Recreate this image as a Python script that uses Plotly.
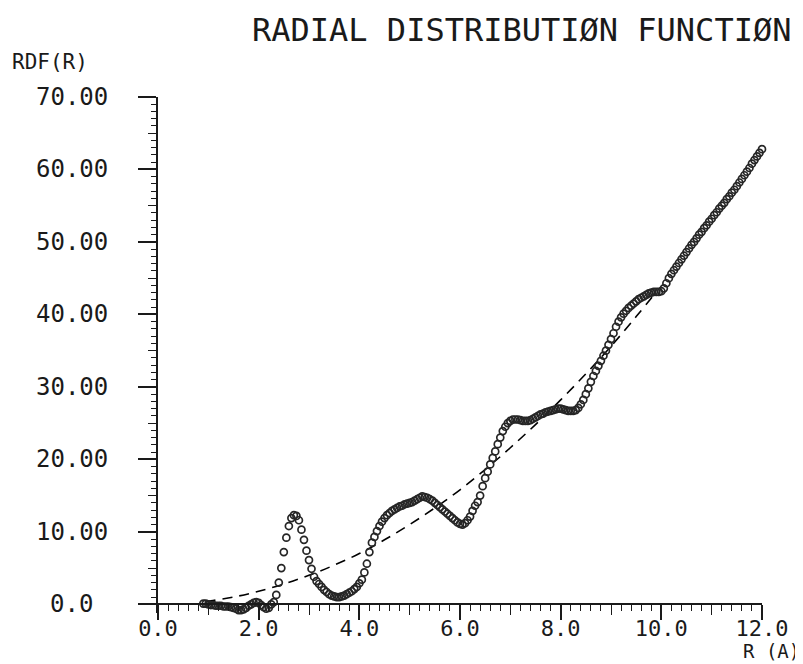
import plotly.graph_objects as go
import numpy as np

# ---------------- data ----------------
r_start, r_step = 0.90, 0.05
rdf_values = [
    0.1, 0.1, 0.0, -0.1, -0.1, -0.2, -0.2, -0.2, -0.3, -0.3,      # 0.90-1.35
    -0.3, -0.4, -0.5, -0.6, -0.8, -0.8, -0.7, -0.5, -0.2, 0.0,    # 1.40-1.85
    0.2, 0.3, 0.2, -0.1, -0.4, -0.6, -0.5, 0.0, 0.3, 1.3,         # 1.90-2.35
    3.0, 5.0, 7.2, 9.2, 10.8, 11.9, 12.3, 12.2, 11.6, 10.3,       # 2.40-2.85
    8.9, 7.4, 6.1, 4.9, 3.8, 3.2, 2.8, 2.4, 2.0, 1.7,             # 2.90-3.35
    1.4, 1.2, 1.1, 1.0, 1.0, 1.1, 1.2, 1.4, 1.6, 1.8,             # 3.40-3.85
    2.1, 2.4, 2.9, 3.4, 4.4, 5.6, 7.2, 8.5, 9.3, 10.1,            # 3.90-4.35
    10.8, 11.4, 11.9, 12.3, 12.6, 12.9, 13.1, 13.3, 13.5, 13.6,   # 4.40-4.85
    13.8, 13.9, 14.0, 14.1, 14.3, 14.5, 14.7, 14.9, 14.8, 14.7,   # 4.90-5.35
    14.5, 14.3, 14.0, 13.7, 13.4, 13.1, 12.8, 12.5, 12.2, 11.9,   # 5.40-5.85
    11.6, 11.3, 11.1, 11.0, 11.2, 11.6, 12.1, 12.9, 13.6, 14.1,   # 5.90-6.35
    15.0, 16.3, 17.4, 18.3, 19.3, 20.2, 21.1, 22.1, 23.0, 23.9,   # 6.40-6.85
    24.5, 25.0, 25.3, 25.5, 25.5, 25.5, 25.4, 25.3, 25.3, 25.3,   # 6.90-7.35
    25.4, 25.6, 25.8, 26.0, 26.2, 26.3, 26.5, 26.6, 26.7, 26.8,   # 7.40-7.85
    26.9, 27.0, 27.0, 26.9, 26.8, 26.7, 26.7, 26.7, 26.8, 27.1,   # 7.90-8.35
    27.6, 28.2, 29.0, 29.8, 30.7, 31.5, 32.2, 32.9, 33.6, 34.3,   # 8.40-8.85
    35.0, 35.8, 36.6, 37.4, 38.3, 39.0, 39.6, 40.1, 40.5, 40.9,   # 8.90-9.35
    41.2, 41.5, 41.8, 42.1, 42.3, 42.5, 42.7, 42.9, 43.0, 43.1,   # 9.40-9.85
    43.1, 43.1, 43.2, 43.6, 44.3, 45.0, 45.6, 46.1, 46.6, 47.1,   # 9.90-10.35
    47.6, 48.1, 48.6, 49.1, 49.6, 50.0, 50.5, 51.0, 51.4, 51.9,   # 10.40-10.85
    52.3, 52.8, 53.2, 53.7, 54.1, 54.6, 55.0, 55.4, 55.9, 56.3,   # 10.90-11.35
    56.8, 57.2, 57.7, 58.2, 58.7, 59.2, 59.7, 60.2, 60.8, 61.3,   # 11.40-11.85
    61.8, 62.3, 62.8,                                             # 11.90-12.00
]
r_values = np.round(r_start + r_step * np.arange(len(rdf_values)), 2)

dash_r = [0.95, 1.0, 1.5, 2.0, 2.5, 3.0, 3.5, 4.0, 4.5, 5.0, 5.5, 6.0,
          6.5, 7.0, 7.5, 8.0, 8.5, 9.0, 9.5, 9.9]
dash_values = [0.3, 0.4, 1.0, 1.8, 2.8, 4.0, 5.4, 7.0, 8.9, 11.0, 13.3, 15.8,
               18.6, 21.6, 24.8, 28.2, 31.8, 35.6, 39.7, 43.1]

x_tick_vals = [0, 2, 4, 6, 8, 10, 12]
x_tick_text = ["0.0", "2.0", "4.0", "6.0", "8.0", "10.0", "12.0"]
x_mid_ticks = [1, 3, 5, 7, 9, 11]
y_tick_vals = [0, 10, 20, 30, 40, 50, 60, 70]
y_tick_text = ["0.0", "10.00", "20.00", "30.00", "40.00", "50.00", "60.00", "70.00"]
y_mid_ticks = [5, 15, 25, 35, 45, 55, 65]
y_minor_ticks = [v for v in range(1, 70) if v % 5 != 0]

title_text = "RADIAL DISTRIBUTIØN FUNCTIØN"
y_label = "RDF(R)"
x_label = "R (A)"

# ---------------- figure ----------------
FONT = "DejaVu Sans Mono"
INK = "#1a1a1a"
Y_LOW, Y_HIGH = -1.2, 70
X_AXIS_POS = (0 - Y_LOW) / (Y_HIGH - Y_LOW)   # where y = 0 sits in the plot area

fig = go.Figure()
fig.add_trace(go.Scatter(
    x=dash_r, y=dash_values, mode="lines",
    line=dict(color="black", width=1.6, dash="10px,7px", shape="spline"),
    showlegend=False, cliponaxis=False, hoverinfo="skip"))
fig.add_trace(go.Scatter(
    x=r_values, y=rdf_values, mode="markers",
    marker=dict(symbol="circle-open", size=7, color="#262626",
                line=dict(width=1.7, color="#262626")),
    showlegend=False, cliponaxis=False))
# helper trace so that the tick-only overlay axes are drawn
fig.add_trace(go.Scatter(x=[None], y=[None], xaxis="x2", yaxis="y2",
                         showlegend=False, hoverinfo="skip"))

axis_common = dict(showgrid=False, zeroline=False, color=INK)
fig.update_layout(
    width=795, height=656,
    margin=dict(l=150, r=41, t=89, b=51),
    paper_bgcolor="white", plot_bgcolor="white",
    font=dict(family=FONT, color=INK),
    xaxis=dict(
        **axis_common, range=[0, 12], anchor="free", position=X_AXIS_POS,
        showline=True, linecolor=INK, linewidth=1.5,
        ticks="outside", tickvals=x_tick_vals, ticktext=x_tick_text,
        ticklen=15, tickwidth=1.5, tickcolor=INK, ticklabelstandoff=-10,
        tickfont=dict(family=FONT, size=22, color=INK),
        minor=dict(ticks="outside", dtick=0.2, tick0=0, ticklen=6,
                   tickwidth=1.2, tickcolor=INK, showgrid=False),
    ),
    xaxis2=dict(
        **axis_common, range=[0, 12], overlaying="x", anchor="free",
        position=X_AXIS_POS, side="bottom",
        showline=False, ticks="outside", tickvals=x_mid_ticks, ticklen=10,
        tickwidth=1.3, tickcolor=INK, showticklabels=False,
    ),
    yaxis=dict(
        **axis_common, range=[Y_LOW, Y_HIGH], showline=True, linecolor=INK,
        linewidth=1.5, ticks="outside", tickvals=y_tick_vals, ticklen=18,
        tickwidth=1.5, tickcolor=INK, showticklabels=False,
        minor=dict(ticks="outside", tickvals=y_minor_ticks, ticklen=5,
                   tickwidth=1.2, tickcolor=INK, showgrid=False),
    ),
    yaxis2=dict(
        **axis_common, range=[Y_LOW, Y_HIGH], overlaying="y", anchor="x",
        side="left", showline=False, ticks="outside", tickvals=y_mid_ticks,
        ticklen=9, tickwidth=1.3, tickcolor=INK, showticklabels=False,
    ),
)

# y tick labels (centred in a column, as on the plotter output)
for v, t in zip(y_tick_vals, y_tick_text):
    fig.add_annotation(x=-0.1424, xref="paper", y=v, yref="y", text=t,
                       showarrow=False, xanchor="center", yanchor="middle",
                       font=dict(family=FONT, size=24, color=INK))

fig.add_annotation(x=0.6026, xref="paper", y=1.13, yref="paper", text=title_text,
                   showarrow=False, xanchor="center", yanchor="middle",
                   font=dict(family=FONT, size=32, color=INK))
fig.add_annotation(x=-0.245, xref="paper", y=1.068, yref="paper", text=y_label,
                   showarrow=False, xanchor="left", yanchor="middle",
                   font=dict(family=FONT, size=21, color=INK))
fig.add_annotation(x=1.066, xref="paper", y=-0.0735, yref="paper", text=x_label,
                   showarrow=False, xanchor="right", yanchor="middle",
                   font=dict(family=FONT, size=19, color=INK))

fig.write_html("out.html")
